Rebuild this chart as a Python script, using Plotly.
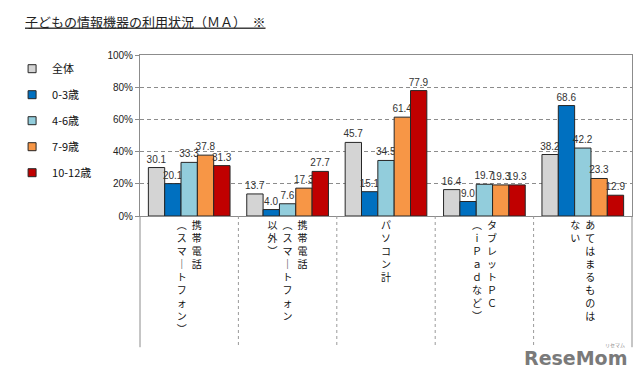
import plotly.graph_objects as go

# ---- data ----
categories = ["携帯電話（スマートフォン）", "携帯電話（スマートフォン以外）", "パソコン計",
              "タブレットPC（iPadなど）", "あてはまるものはない"]
# vertical (tategaki) label columns, read right-to-left
category_columns = [
    ["携帯電話", "︵スマ｜トフォン︶"],
    ["携帯電話", "︵スマ｜トフォン", "以外︶"],
    ["パソコン計"],
    ["タブレットＰＣ", "︵ｉＰａｄなど︶"],
    ["あてはまるものは", "ない"],
]
series_names = ["全体", "0-3歳", "4-6歳", "7-9歳", "10-12歳"]
values_all = [30.1, 13.7, 45.7, 16.4, 38.2]
values_0_3 = [20.1, 4.0, 15.1, 9.0, 68.6]
values_4_6 = [33.3, 7.6, 34.5, 19.7, 42.2]
values_7_9 = [37.8, 17.3, 61.4, 19.3, 23.3]
values_10_12 = [31.3, 27.7, 77.9, 19.3, 12.9]
y_ticks = [0, 20, 40, 60, 80, 100]
y_tick_labels = ["0%", "20%", "40%", "60%", "80%", "100%"]
title_text = "子どもの情報機器の利用状況（ＭＡ）　※"

series_values = [values_all, values_0_3, values_4_6, values_7_9, values_10_12]
colors = ["#D4D4D4", "#0070C0", "#92CDDC", "#F79646", "#C00000"]

LATIN = "Liberation Sans, Arial, Noto Sans CJK JP"
CJK = "Noto Sans CJK JP"


def vertical(cols, gap="\u2002"):
    n = max(len(c) for c in cols)
    rows = []
    for i in range(n):
        chars = [c[i] if i < len(c) else "\u3000" for c in reversed(cols)]
        rows.append(gap.join(chars))
    return "<br>".join(rows)


tick_text = [vertical(c) for c in category_columns]

fig = go.Figure()
for name, vals, col in zip(series_names, series_values, colors):
    fig.add_trace(go.Bar(
        x=categories, y=vals, name=name, showlegend=False,
        marker=dict(color=col, line=dict(color="#262626", width=1)),
        text=[f"{v:.1f}" for v in vals], textposition="outside",
        textfont=dict(family=LATIN, size=10, color="#333333"),
        constraintext="none", cliponaxis=False,
    ))
# legend entries (small square keys)
for i, (name, col) in enumerate(zip(series_names, colors)):
    fig.add_trace(go.Scatter(
        x=[None], y=[None], mode="markers", name=name, legendgroup=str(i),
        marker=dict(symbol="square", size=8, color=col, line=dict(color="#262626", width=1)),
    ))

sep_color = "#9A9A9A"
shapes = []
# extend left/right frame below the axis
for xp in (0, 1):
    shapes.append(dict(type="line", xref="paper", yref="paper", x0=xp, x1=xp, y0=0, y1=-0.815,
                       line=dict(color="#8C8C8C", width=1)))
# dotted category separators
for k in range(1, len(categories)):
    shapes.append(dict(type="line", xref="x", yref="paper", x0=k - 0.5, x1=k - 0.5, y0=0, y1=-0.815,
                       line=dict(color=sep_color, width=1, dash="dot")))

fig.update_layout(
    width=640, height=381,
    margin=dict(l=140, r=8, t=55, b=165),
    paper_bgcolor="white", plot_bgcolor="white",
    barmode="group", bargap=0.17, bargroupgap=0,
    font=dict(family=LATIN, size=10, color="#222222"),
    title=dict(text=f"<u>{title_text}</u>", x=25 / 640, xanchor="left", xref="container",
               y=1 - 22 / 381, yanchor="middle", yref="container",
               font=dict(family=CJK, size=13, color="#222222")),
    legend=dict(x=-0.26, xanchor="left", y=1.005, yanchor="top",
                font=dict(family=CJK, size=11, color="#111111"),
                tracegroupgap=7, bgcolor="rgba(0,0,0,0)"),
    xaxis=dict(type="category", tickvals=categories, ticktext=tick_text,
               tickfont=dict(family=CJK, size=10, color="#111111"),
               showline=True, linecolor="#8C8C8C", linewidth=1, mirror=True,
               ticks="", showgrid=False),
    yaxis=dict(range=[0, 100], tickvals=y_ticks, ticktext=y_tick_labels,
               tickfont=dict(family=LATIN, size=10, color="#222222"),
               showline=True, linecolor="#8C8C8C", linewidth=1, mirror=True,
               ticks="outside", ticklen=4, tickcolor="#8C8C8C",
               showgrid=True, gridcolor="#8C8C8C", griddash="4px,3px", gridwidth=1,
               zeroline=False),
    shapes=shapes,
    annotations=[
        dict(text="<b>ReseMom</b>", xref="paper", yref="paper", x=0.885, y=-0.88,
             xanchor="center", yanchor="middle", showarrow=False,
             font=dict(family="DejaVu Sans", size=19, color="#7A7A7A")),
        dict(text="リセマム", xref="paper", yref="paper", x=0.965, y=-0.80,
             xanchor="center", yanchor="middle", showarrow=False,
             font=dict(family=CJK, size=5, color="#8A8A8A")),
    ],
)

fig.write_html("out.html", config={"displayModeBar": False},
               post_script="document.body.style.margin='0';document.body.style.padding='0';")
